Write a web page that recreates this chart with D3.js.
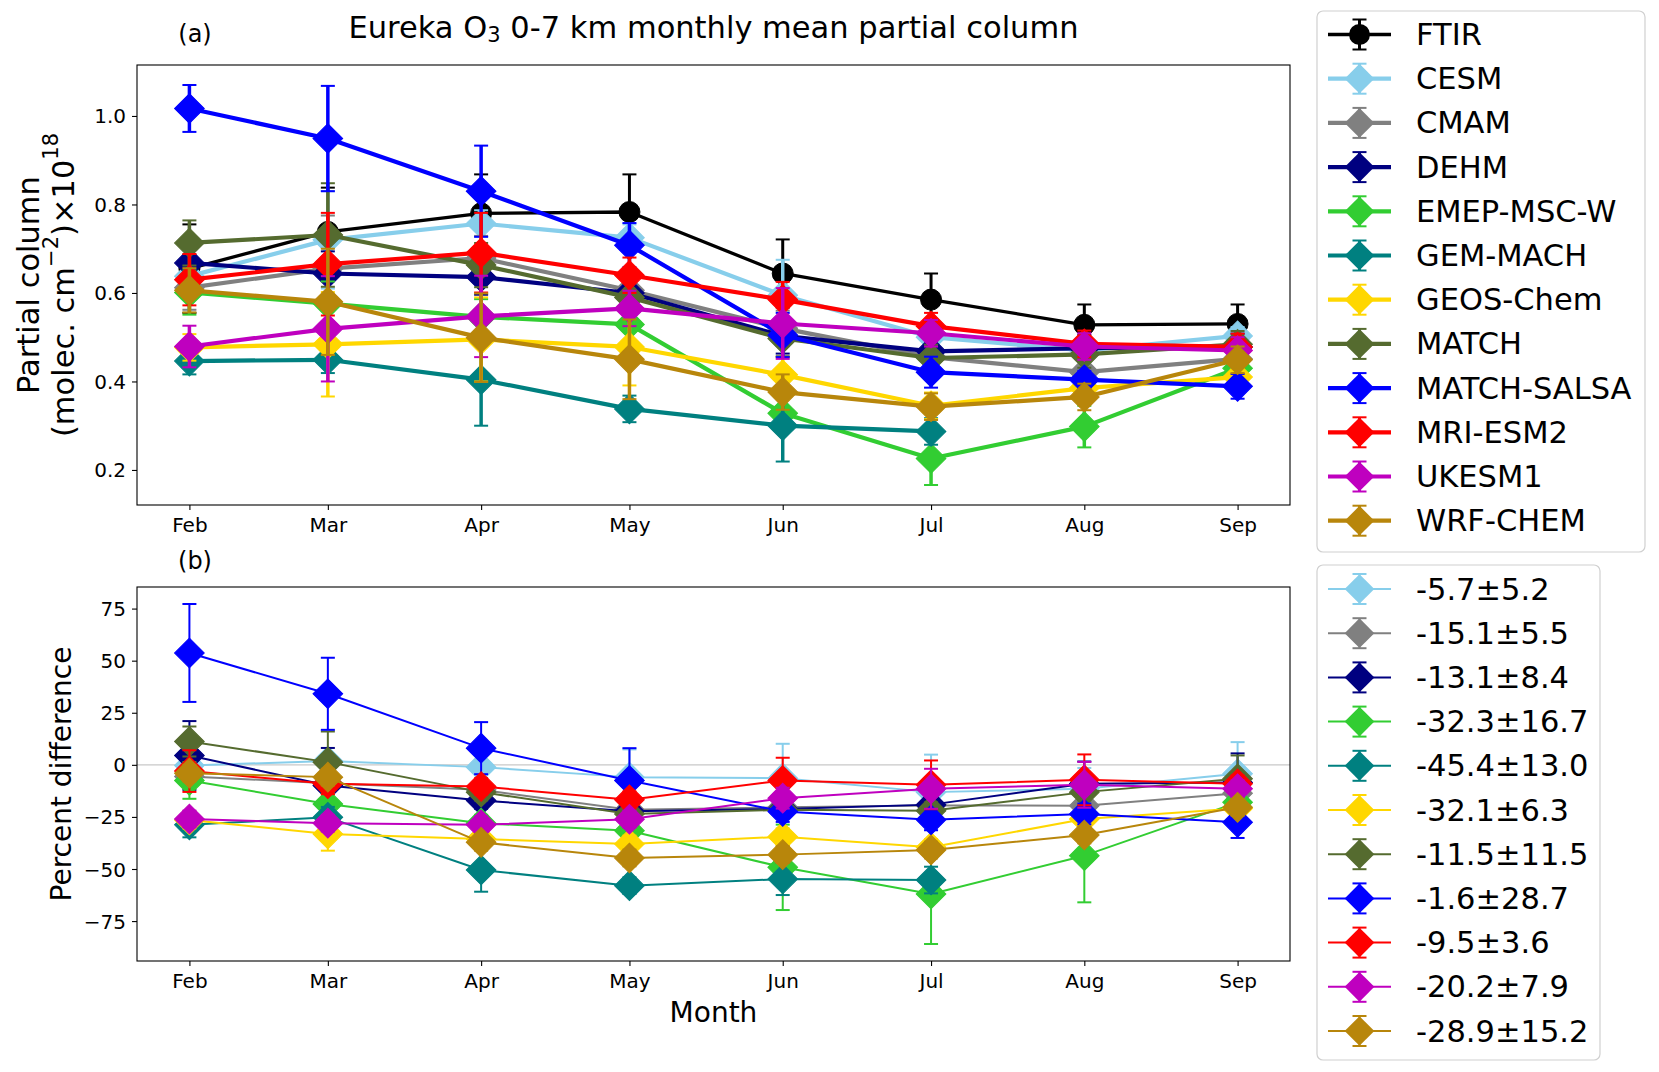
<!DOCTYPE html>
<html><head><meta charset="utf-8">
<script src="https://cdn.jsdelivr.net/npm/d3@7"></script>
<style>
body{margin:0;background:#fff;}
svg{display:block;font-family:"DejaVu Sans",sans-serif;}
</style>
</head><body>
<svg id="chart" width="1659" height="1072"></svg>
<script>
// ---------------- data ----------------
const months = ["Feb","Mar","Apr","May","Jun","Jul","Aug","Sep"];
const monthDates = ["2019-02-15","2019-03-15","2019-04-15","2019-05-15","2019-06-15","2019-07-15","2019-08-15","2019-09-15"];
const seriesNames = ["FTIR","CESM","CMAM","DEHM","EMEP-MSC-W","GEM-MACH","GEOS-Chem","MATCH","MATCH-SALSA","MRI-ESM2","UKESM1","WRF-CHEM"];
const seriesColors = ["#000000","#87CEEB","#808080","#000080","#32CD32","#008080","#FFD700","#556B2F","#0000FF","#FF0000","#BF00BF","#B8860B"];

// (a) partial columns, 1e18 molec/cm2
const ftirCol       = [0.655,0.738,0.780,0.783,0.644,0.585,0.528,0.530];
const ftirErr       = [0.100,0.100,0.088,0.085,0.077,0.059,0.046,0.044];
const cesmCol       = [0.638,0.720,0.757,0.725,0.595,0.500,0.470,0.503];
const cesmErr       = [0.050,0.110,0.030,0.030,0.080,0.030,0.020,0.020];
const cmamCol       = [0.612,0.655,0.679,0.606,0.520,0.455,0.421,0.451];
const cmamErr       = [0.050,0.120,0.050,0.040,0.040,0.030,0.030,0.030];
const dehmCol       = [0.668,0.644,0.636,0.600,0.503,0.468,0.475,0.478];
const dehmErr       = [0.040,0.050,0.040,0.040,0.040,0.030,0.030,0.030];
const emepCol       = [0.601,0.576,0.546,0.529,0.328,0.226,0.298,0.430];
const emepErr       = [0.050,0.050,0.040,0.040,0.040,0.060,0.047,0.030];
const gemCol        = [0.446,0.449,0.404,0.338,0.300,0.287,null,null];
const gemErr        = [0.030,0.030,0.104,0.030,0.081,0.030,null,null];
const geosCol       = [0.477,0.484,0.495,0.478,0.415,0.345,0.385,0.410];
const geosErr       = [0.030,0.118,0.095,0.087,0.040,0.030,0.030,0.030];
const matchCol      = [0.713,0.731,0.663,0.590,0.497,0.453,0.461,0.484];
const matchErr      = [0.051,0.117,0.050,0.040,0.040,0.030,0.030,0.030];
const salsaCol      = [1.017,0.949,0.830,0.708,0.505,0.421,0.404,0.389];
const salsaErr      = [0.053,0.119,0.103,0.050,0.050,0.035,0.020,0.028];
const mriCol        = [0.630,0.665,0.691,0.640,0.585,0.525,0.485,0.478];
const mriErr        = [0.058,0.116,0.090,0.040,0.040,0.030,0.030,0.030];
const ukesmCol      = [0.479,0.519,0.547,0.565,0.531,0.509,0.479,0.470];
const ukesmErr      = [0.047,0.119,0.092,0.040,0.080,0.030,0.030,0.030];
const wrfCol        = [0.606,0.580,0.499,0.450,0.376,0.343,0.365,0.449];
const wrfErr        = [0.050,0.120,0.100,0.090,0.040,0.030,0.030,0.030];

// (b) percent differences
const cesmPct  = [-0.3,1.8,-1.1,-5.9,-6.4,-13.1,-11.5,-4.3];
const cesmPE   = [3,3,3,13.3,16.5,18,10,15.2];
const cmamPct  = [-5.6,-8.8,-12,-21.6,-20.4,-19.5,-19.6,-13.6];
const cmamPE   = [4,4,4,4,4,4,4,4];
const dehmPct  = [4.5,-9.9,-17.1,-22.3,-21.2,-19.1,-9.1,-8.5];
const dehmPE   = [16.5,18,4,4,4,4,10.7,14];
const emepPct  = [-7.5,-18.8,-28,-31.6,-49.2,-62,-43.6,-18];
const emepPE   = [8.8,5,4,4,20.5,24,22.4,6];
const gemPct   = [-28.8,-25.2,-50.5,-58,-54.8,-55.3,null,null];
const gemPE    = [6,5,10.4,4,7.7,6.4,null,null];
const geosPct  = [-26.5,-33.2,-35.6,-38,-34.5,-39.6,-26,-21];
const geosPE   = [4,8,4,4,4,4,4,4];
const matchPct = [11.2,1.3,-13.1,-23.6,-21.6,-22,-13.1,-6.7];
const matchPE  = [7.2,14.7,4,4,4,4,4,11.2];
const salsaPct = [53.7,34.1,8,-7.5,-22.4,-26.4,-23.6,-27.6];
const salsaPE  = [23.5,17.3,12.5,15.5,5,5,5,7.5];
const mriPct   = [-3,-9.1,-10.4,-16.8,-7.5,-9.6,-7.2,-9.1];
const mriPE    = [10,5,4,4,10.9,11.7,12.2,4];
const ukesmPct = [-26,-28,-28.8,-26.1,-16,-11.5,-9.6,-11.5];
const ukesmPE  = [4,4,4,4,5,9.6,11,4];
const wrfPct   = [-4,-5.9,-37.2,-44.7,-43.1,-40.9,-33.7,-20.4];
const wrfPE    = [4,4,4,4,4,4,4,4];

const pctLabels = ["-5.7±5.2","-15.1±5.5","-13.1±8.4","-32.3±16.7","-45.4±13.0","-32.1±6.3","-11.5±11.5","-1.6±28.7","-9.5±3.6","-20.2±7.9","-28.9±15.2"];

const yTicksA = [0.2,0.4,0.6,0.8,1.0];
const yTicksB = [-75,-50,-25,0,25,50,75];

// ---------------- build ----------------
const dates = monthDates.map(d=>new Date(d+"T00:00:00Z"));
const colVals = [ftirCol,cesmCol,cmamCol,dehmCol,emepCol,gemCol,geosCol,matchCol,salsaCol,mriCol,ukesmCol,wrfCol];
const colErrs = [ftirErr,cesmErr,cmamErr,dehmErr,emepErr,gemErr,geosErr,matchErr,salsaErr,mriErr,ukesmErr,wrfErr];
const pctVals = [cesmPct,cmamPct,dehmPct,emepPct,gemPct,geosPct,matchPct,salsaPct,mriPct,ukesmPct,wrfPct];
const pctErrs = [cesmPE,cmamPE,dehmPE,emepPE,gemPE,geosPE,matchPE,salsaPE,mriPE,ukesmPE,wrfPE];

const seriesA = seriesNames.map((n,i)=>({name:n,color:seriesColors[i],marker:i===0?"o":"D",
  pts:dates.map((d,j)=>({x:d,y:colVals[i][j],e:colErrs[i][j]}))}));
const seriesB = seriesNames.slice(1).map((n,i)=>({name:n,color:seriesColors[i+1],marker:"D",label:pctLabels[i],
  pts:dates.map((d,j)=>({x:d,y:pctVals[i][j],e:pctErrs[i][j]}))}));

const svg = d3.select("#chart");
const L = 137, R = 1290;
const A = {top:65, bottom:505};
const B = {top:587, bottom:961};

const t0 = +dates[0], t1 = +dates[dates.length-1], pad = (t1-t0)*0.05;
const x = d3.scaleUtc().domain([new Date(t0-pad), new Date(t1+pad)]).range([L,R]);

function extentWithMargin(series){
  let lo=Infinity, hi=-Infinity;
  series.forEach(s=>s.pts.forEach(p=>{ if(p.y==null) return; lo=Math.min(lo,p.y-p.e); hi=Math.max(hi,p.y+p.e); }));
  const m=(hi-lo)*0.05; return [lo-m,hi+m];
}
const yA = d3.scaleLinear().domain(extentWithMargin(seriesA)).range([A.bottom,A.top]);
const yB = d3.scaleLinear().domain(extentWithMargin(seriesB)).range([B.bottom,B.top]);

const MS = 21; // marker size px
const diamond = d3.symbol().type(d3.symbolSquare).size(MS*MS)();
const circle = d3.symbol().type(d3.symbolCircle).size(Math.PI*(MS/2)*(MS/2))();
const CAP = 7;

function drawSeries(g, y, s, lw, elw){
  const gs = g.append("g");
  const pts = s.pts.filter(p=>p.y!=null);
  pts.forEach(p=>{
    const cx=x(p.x), y0=y(p.y-p.e), y1=y(p.y+p.e);
    gs.append("line").attr("x1",cx).attr("x2",cx).attr("y1",y0).attr("y2",y1)
      .attr("stroke",s.color).attr("stroke-width",elw);
    [y0,y1].forEach(yy=>gs.append("line").attr("x1",cx-CAP).attr("x2",cx+CAP).attr("y1",yy).attr("y2",yy)
      .attr("stroke",s.color).attr("stroke-width",2));
  });
  const line = d3.line().defined(p=>p.y!=null).x(p=>x(p.x)).y(p=>y(p.y));
  gs.append("path").attr("d",line(s.pts)).attr("fill","none").attr("stroke",s.color)
    .attr("stroke-width",lw).attr("stroke-linejoin","round");
  gs.selectAll("path.mk").data(pts).enter().append("path").attr("class","mk")
    .attr("d",s.marker==="o"?circle:diamond)
    .attr("transform",p=>`translate(${x(p.x)},${y(p.y)})`+(s.marker==="o"?"":" rotate(45)"))
    .attr("fill",s.color).attr("stroke",s.color).attr("stroke-width",1);
}

function styleAxis(g){
  g.select(".domain").remove();
  g.selectAll(".tick line").attr("stroke","#000").attr("stroke-width",1.1);
  g.selectAll(".tick text").attr("fill","#000").style("font-size","20px").style("font-family","DejaVu Sans");
}

function drawAxes(y, box, ticks, fmt){
  const gx = svg.append("g").attr("transform",`translate(0,${box.bottom})`)
    .call(d3.axisBottom(x).tickValues(dates).tickFormat((d,i)=>months[i]).tickSize(5).tickPadding(8));
  styleAxis(gx);
  const gy = svg.append("g").attr("transform",`translate(${L},0)`)
    .call(d3.axisLeft(y).tickValues(ticks).tickFormat(fmt).tickSize(5).tickPadding(6));
  styleAxis(gy);
  gy.selectAll(".tick text").attr("dy","0.35em");
}

// Panel A
const gA = svg.append("g");
seriesA.forEach((s,i)=>drawSeries(gA,yA,s,i===0?3.3:4.2,i===0?3:3.5));
svg.append("rect").attr("x",L).attr("y",A.top).attr("width",R-L).attr("height",A.bottom-A.top)
  .attr("fill","none").attr("stroke","#000").attr("stroke-width",1.1);
drawAxes(yA,A,yTicksA,d3.format(".1f"));

// Panel B
const gB = svg.append("g");
gB.append("line").attr("x1",L).attr("x2",R).attr("y1",yB(0)).attr("y2",yB(0))
  .attr("stroke","#c8c8c8").attr("stroke-width",1.2);
seriesB.forEach(s=>drawSeries(gB,yB,s,2,2));
svg.append("rect").attr("x",L).attr("y",B.top).attr("width",R-L).attr("height",B.bottom-B.top)
  .attr("fill","none").attr("stroke","#000").attr("stroke-width",1.1);
drawAxes(yB,B,yTicksB,d3.format("d"));

// Titles & labels
const t = svg.append("text").attr("x",(L+R)/2).attr("y",27).attr("text-anchor","middle")
  .attr("dominant-baseline","central").style("font-size","30.5px");
t.append("tspan").text("Eureka O");
t.append("tspan").attr("font-size","21px").attr("dy","8").text("3");
t.append("tspan").attr("dy","-8").text(" 0-7 km monthly mean partial column");

svg.append("text").attr("x",195).attr("y",34).attr("text-anchor","middle").attr("dominant-baseline","central")
  .style("font-size","24px").text("(a)");
svg.append("text").attr("x",195).attr("y",561).attr("text-anchor","middle").attr("dominant-baseline","central")
  .style("font-size","24px").text("(b)");

const cyA=(A.top+A.bottom)/2;
svg.append("text").attr("transform",`translate(28,${cyA}) rotate(-90)`).attr("text-anchor","middle")
  .attr("dominant-baseline","central").style("font-size","30.5px").text("Partial column");
const yl2 = svg.append("text").attr("transform",`translate(63,${cyA}) rotate(-90)`).attr("text-anchor","middle")
  .attr("dominant-baseline","central").style("font-size","30.5px");
yl2.append("tspan").text("(molec. cm");
yl2.append("tspan").attr("font-size","21px").attr("dy","-12").text("−2");
yl2.append("tspan").attr("dy","12").text(")×10");
yl2.append("tspan").attr("font-size","21px").attr("dy","-12").text("18");

svg.append("text").attr("transform",`translate(61,${(B.top+B.bottom)/2}) rotate(-90)`).attr("text-anchor","middle")
  .attr("dominant-baseline","central").style("font-size","28px").text("Percent difference");
svg.append("text").attr("x",(L+R)/2).attr("y",1012).attr("text-anchor","middle").attr("dominant-baseline","central")
  .style("font-size","28px").text("Month");

// Legends
function legend(series, box, y0, dy, lw, labelOf){
  const g = svg.append("g");
  g.append("rect").attr("x",box.x).attr("y",box.y).attr("width",box.w).attr("height",box.h)
    .attr("rx",6).attr("fill","#fff").attr("fill-opacity",0.8).attr("stroke","#d0d0d0").attr("stroke-width",1.2);
  const hx0=1328, hx1=1391, hc=(hx0+hx1)/2;
  series.forEach((s,i)=>{
    const yy=y0+i*dy;
    g.append("line").attr("x1",hx0).attr("x2",hx1).attr("y1",yy).attr("y2",yy).attr("stroke",s.color).attr("stroke-width",lw(i));
    g.append("line").attr("x1",hc).attr("x2",hc).attr("y1",yy-15).attr("y2",yy+15).attr("stroke",s.color).attr("stroke-width",Math.min(lw(i),3));
    [yy-15,yy+15].forEach(c=>g.append("line").attr("x1",hc-CAP).attr("x2",hc+CAP).attr("y1",c).attr("y2",c).attr("stroke",s.color).attr("stroke-width",2));
    g.append("path").attr("d",s.marker==="o"?circle:diamond)
      .attr("transform",`translate(${hc},${yy})`+(s.marker==="o"?"":" rotate(45)")).attr("fill",s.color);
    g.append("text").attr("x",1416).attr("y",yy).attr("dominant-baseline","central").style("font-size","30.5px").text(labelOf(s));
  });
}
legend(seriesA,{x:1317,y:11,w:328,h:541},34.5,44.2,i=>i===0?3.3:4.2,s=>s.name);
legend(seriesB,{x:1317,y:565,w:283,h:495},589,44.2,()=>2,s=>s.label);
</script>
</body></html>
